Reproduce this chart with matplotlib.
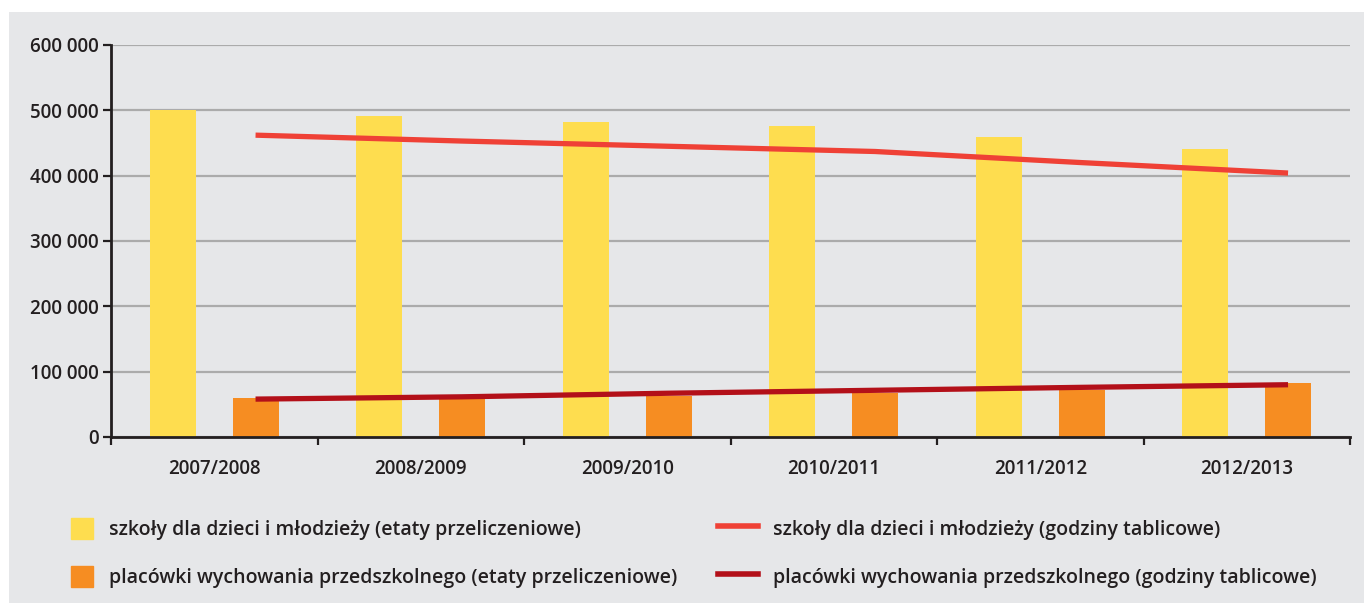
import matplotlib.pyplot as plt
import matplotlib.patches as patches
from matplotlib.lines import Line2D
from matplotlib.ticker import FuncFormatter, FixedLocator
import numpy as np

plt.rcParams['font.family'] = ['Open Sans', 'DejaVu Sans']

# data
years = ['2007/2008', '2008/2009', '2009/2010', '2010/2011', '2011/2012', '2012/2013']
szkoly_etaty = [500000, 491000, 482000, 476000, 459000, 441000]
przedszk_etaty = [60000, 59000, 63500, 67500, 72500, 83000]
szkoly_godziny = [462000, 453000, 445000, 437000, 420000, 404000]
przedszk_godziny = [58000, 61500, 67000, 71500, 76000, 80000]

labels = ['szkoły dla dzieci i młodzieży (etaty przeliczeniowe)',
          'placówki wychowania przedszkolnego (etaty przeliczeniowe)',
          'szkoły dla dzieci i młodzieży (godziny tablicowe)',
          'placówki wychowania przedszkolnego (godziny tablicowe)']

bg = '#E6E7E9'
yellow = '#FEDD4F'
orange = '#F68D22'
red = '#EF4136'
darkred = '#B31019'
txt = '#231F20'

W, H = 1364, 603
fig = plt.figure(figsize=(W / 100, H / 100), dpi=100, facecolor='white')

# grey panel (white margin on top and left)
fig.patches.append(patches.Rectangle((9 / W, 0), 1 - 9 / W, 1 - 12 / H,
                                     transform=fig.transFigure, facecolor=bg,
                                     edgecolor='none', zorder=-5))

ax = fig.add_axes([111 / W, 1 - 437 / H, (1350 - 111) / W, (437 - 45) / H])
ax.set_facecolor(bg)

x = np.arange(len(years))
bw = 0.223
ax.bar(x - 0.2, szkoly_etaty, width=bw, color=yellow, zorder=2)
ax.bar(x + 0.2, przedszk_etaty, width=bw, color=orange, zorder=2)
ax.plot(x + 0.2, szkoly_godziny, color=red, lw=3.8, zorder=3, solid_capstyle='butt')
ax.plot(x + 0.2, przedszk_godziny, color=darkred, lw=3.8, zorder=3, solid_capstyle='butt')

ax.set_xlim(-0.5, len(years) - 0.5)
ax.set_ylim(0, 600000)

# grid
ax.yaxis.set_major_locator(FixedLocator(np.arange(0, 600001, 100000)))
ax.grid(axis='y', color='#ABABAB', lw=1.6, zorder=1)
ax.set_axisbelow(True)

ax.yaxis.set_major_formatter(FuncFormatter(lambda v, p: f'{int(v):,}'.replace(',', ' ')))
for s in ['top', 'right']:
    ax.spines[s].set_visible(False)
for s in ['left', 'bottom']:
    ax.spines[s].set_linewidth(2)
    ax.spines[s].set_color(txt)
    ax.spines[s].set_zorder(4)

# x ticks at category boundaries, labels at centres
ax.set_xticks(np.arange(-0.5, len(years), 1.0))
ax.set_xticklabels([])
ax.set_xticks(x, minor=True)
ax.set_xticklabels(years, minor=True)
ax.tick_params(axis='x', which='major', length=6, width=1.6, color=txt)
ax.tick_params(axis='x', which='minor', length=0, pad=15.5, labelsize=13.5, labelcolor=txt)
ax.tick_params(axis='y', length=6, width=1.6, color=txt, labelsize=13.5, labelcolor=txt, pad=3)
for t in ax.get_xticklabels(minor=True) + ax.get_yticklabels():
    t.set_fontweight('semibold')

# legend
h1 = [patches.Patch(color=yellow), patches.Patch(color=orange)]
h2 = [Line2D([], [], color=red, lw=4), Line2D([], [], color=darkred, lw=4)]
kw = dict(loc='upper left', frameon=False, borderpad=0, borderaxespad=0,
          handleheight=1.25, handletextpad=0.8, labelspacing=1.35,
          prop={'size': 14, 'weight': 'semibold'})
leg1 = fig.legend(h1, labels[:2], bbox_to_anchor=(71 / W, 1 - 518 / H), handlelength=1.15, **kw)
leg2 = fig.legend(h2, labels[2:], bbox_to_anchor=(718 / W, 1 - 518 / H), handlelength=2.05, **kw)
for lg in (leg1, leg2):
    for t in lg.get_texts():
        t.set_color(txt)

fig.savefig('out.png', dpi=100, facecolor='white')
